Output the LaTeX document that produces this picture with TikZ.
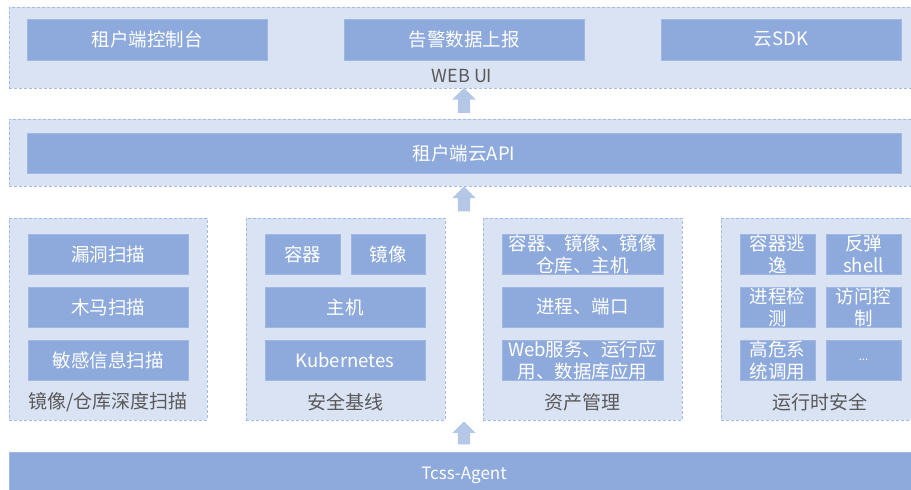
\documentclass[tikz,border=0pt]{standalone}
\usepackage{fontspec}
\setmainfont{Noto Sans CJK SC}
\usetikzlibrary{shapes.arrows,calc}
\definecolor{contfill}{HTML}{DAE3F3}
\definecolor{contline}{HTML}{A3BAE4}
\definecolor{boxfill}{HTML}{8EAADC}
\definecolor{arrfill}{HTML}{B4C7E7}
\definecolor{labelgray}{HTML}{595959}
\tikzset{
  container/.style={draw=contline, fill=contfill, line width=0.8pt, dash pattern=on 3pt off 2pt, inner sep=0pt, anchor=center},
  bluebox/.style={fill=boxfill, draw=boxfill!85!white, line width=0.6pt, text=white, inner sep=0pt, align=center,
    font=\fontsize{18.5}{22}\selectfont},
  grouplabel/.style={text=labelgray, font=\fontsize{19}{22}\selectfont, inner sep=0pt},
  uparrow/.style={single arrow, shape border rotate=90, fill=arrfill, draw=none, inner sep=6pt,
    single arrow head extend=5.5pt, single arrow head indent=0pt, minimum height=25pt}
}
\begin{document}
\begin{tikzpicture}[x=1pt,y=-1pt]
\useasboundingbox (0,0) rectangle (911,490);
% WEB UI layer
\node[container, minimum width=910pt, minimum height=81pt] (web) at (464,47.5) {};
\node[bluebox, minimum width=240pt, minimum height=41pt] (console) at (147,39.5) {租户端控制台};
\node[bluebox, minimum width=240pt, minimum height=41pt] (alarm) at (464,39.5) {告警数据上报};
\node[bluebox, minimum width=240pt, minimum height=41pt] (sdk) at (781,39.5) {云SDK};
\node[text=labelgray, font=\fontsize{18}{20}\selectfont, inner sep=0pt] (weblabel) at (462,76) {WEB UI};
% API layer
\node[container, minimum width=910pt, minimum height=67pt] (apil) at (464,152.5) {};
\node[bluebox, minimum width=874pt, minimum height=40pt] (api) at (464,153) {租户端云API};
% groups
\node[container, minimum width=198pt, minimum height=202pt] (g1) at (108,319) {};
\node[bluebox, minimum width=160pt, minimum height=40pt] (vuln) at (108,254) {漏洞扫描};
\node[bluebox, minimum width=160pt, minimum height=40pt] (trojan) at (108,307) {木马扫描};
\node[bluebox, minimum width=160pt, minimum height=40pt] (sens) at (108,360) {敏感信息扫描};
\node[grouplabel] (g1l) at (108,402) {镜像/仓库深度扫描};

\node[container, minimum width=199pt, minimum height=202pt] (g2) at (345.5,319) {};
\node[bluebox, minimum width=75pt, minimum height=40pt] (cont2) at (302.5,254) {容器};
\node[bluebox, minimum width=74pt, minimum height=40pt] (img2) at (388,254) {镜像};
\node[bluebox, minimum width=160pt, minimum height=40pt] (host2) at (345,307) {主机};
\node[bluebox, minimum width=160pt, minimum height=40pt] (k8s) at (345,360) {Kubernetes};
\node[grouplabel] (g2l) at (345.5,402) {安全基线};

\node[container, minimum width=199pt, minimum height=202pt] (g3) at (582.5,319) {};
\node[bluebox, minimum width=161pt, minimum height=40pt] (asset1) at (582.5,254) {容器、镜像、镜像\\仓库、主机};
\node[bluebox, minimum width=161pt, minimum height=40pt] (asset2) at (582.5,307) {进程、端口};
\node[bluebox, minimum width=161pt, minimum height=40pt] (asset3) at (582.5,360) {Web服务、运行应\\用、数据库应用};
\node[grouplabel] (g3l) at (582.5,402) {资产管理};

\node[container, minimum width=198pt, minimum height=202pt] (g4) at (820,319) {};
\node[bluebox, minimum width=75pt, minimum height=40pt] (escape) at (777.5,254) {容器逃\\逸};
\node[bluebox, minimum width=75pt, minimum height=40pt] (shell) at (863.5,254) {反弹\\shell};
\node[bluebox, minimum width=75pt, minimum height=40pt] (proc) at (777.5,307) {进程检\\测};
\node[bluebox, minimum width=75pt, minimum height=40pt] (acl) at (863.5,307) {访问控\\制};
\node[bluebox, minimum width=75pt, minimum height=40pt] (syscall) at (777.5,360) {高危系\\统调用};
\node[bluebox, minimum width=75pt, minimum height=40pt, font=\fontsize{11}{13}\selectfont] (more) at (863.5,360) {...};
\node[grouplabel] (g4l) at (820,402) {运行时安全};

% agent
\node[bluebox, minimum width=910pt, minimum height=46pt, font=\fontsize{17}{20}\selectfont] (agent) at (464,475) {\raisebox{3pt}{Tcss-Agent}};

% arrows
\node[uparrow, minimum height=25pt] (a1) at ($(web.south)!0.5!(apil.north)$) {};
\node[uparrow, minimum height=25pt] (a2) at ($(apil.south)!0.5!(g3.north west -| apil.south)$) {};
\coordinate (gbot) at (464,420);
\node[uparrow, minimum height=23pt] (a3) at ($(gbot)!0.5!(agent.north)$) {};
\end{tikzpicture}
\end{document}
